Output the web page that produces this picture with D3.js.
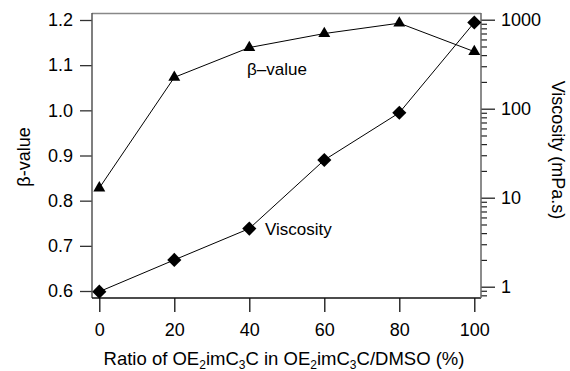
<!DOCTYPE html>
<html>
<head>
<meta charset="utf-8">
<script src="https://cdn.jsdelivr.net/npm/d3@7"></script>
<style>
  html, body { margin: 0; padding: 0; background: #fff; }
  text { font-family: "Liberation Sans", Arial, sans-serif; fill: #000; }
</style>
</head>
<body>
<svg id="chart" width="570" height="371"></svg>
<script>
// ---- data ----
const ratios = [0, 20, 40, 60, 80, 100];
const betaValues = [0.828, 1.073, 1.139, 1.170, 1.193, 1.130];
const viscosityValues = [0.88, 2.0, 4.5, 26.5, 90, 930];
const xTicks = [0, 20, 40, 60, 80, 100];
const betaTicks = [0.6, 0.7, 0.8, 0.9, 1.0, 1.1, 1.2];
const viscTicks = [1, 10, 100, 1000];

const svg = d3.select("#chart");
const frame = { left: 92, right: 481, top: 13, bottom: 298 };

const x = d3.scaleLinear().domain([0, 100]).range([99.3, 474.3]);
const yL = d3.scaleLinear().domain([0.6, 1.2]).range([291, 20]);
const yR = d3.scaleLog().domain([1, 1000]).range([286.7, 19.7]);

const fs = 18;
const ff = "Liberation Sans, Arial, sans-serif";

// frame top
svg.append("line").attr("x1", frame.left).attr("x2", frame.right)
  .attr("y1", frame.top + 0.5).attr("y2", frame.top + 0.5)
  .attr("stroke", "#888").attr("stroke-width", 1.5);

// left axis
const gL = svg.append("g").attr("transform", `translate(${frame.left},0)`)
  .call(d3.axisLeft(yL).tickValues(betaTicks).tickFormat(d3.format(".1f")).tickSize(12).tickPadding(7));
gL.select(".domain").remove();
gL.selectAll(".tick line").attr("stroke", "#333").attr("stroke-width", 1.3);
gL.selectAll(".tick text").attr("font-size", fs).attr("font-family", ff);
svg.append("line").attr("x1", frame.left).attr("x2", frame.left)
  .attr("y1", frame.top).attr("y2", frame.bottom)
  .attr("stroke", "#555").attr("stroke-width", 1.5);

// bottom axis
const gB = svg.append("g").attr("transform", `translate(0,${frame.bottom})`)
  .call(d3.axisBottom(x).tickValues(xTicks).tickSize(14).tickPadding(11));
gB.select(".domain").remove();
gB.selectAll(".tick line").attr("stroke", "#111").attr("stroke-width", 1.3);
gB.selectAll(".tick text").attr("font-size", fs).attr("font-family", ff);
svg.append("line").attr("x1", frame.left).attr("x2", frame.right)
  .attr("y1", frame.bottom).attr("y2", frame.bottom)
  .attr("stroke", "#111").attr("stroke-width", 1.3);

// right axis: minor ticks
const minor = [];
for (let dec = 0.1; dec <= 1000; dec *= 10) {
  for (let m = 2; m <= 9; m++) {
    const v = dec * m;
    if (yR(v) >= frame.top && yR(v) <= frame.bottom) minor.push(v);
  }
}
const gRm = svg.append("g").attr("transform", `translate(${frame.right},0)`)
  .call(d3.axisRight(yR).tickValues(minor).tickSize(6).tickFormat(""));
gRm.select(".domain").remove();
gRm.selectAll(".tick line").attr("stroke", "#222").attr("stroke-width", 1.2);
const gR = svg.append("g").attr("transform", `translate(${frame.right},0)`)
  .call(d3.axisRight(yR).tickValues(viscTicks).tickSize(14).tickPadding(6).tickFormat(d3.format("d")));
gR.select(".domain").remove();
gR.selectAll(".tick line").attr("stroke", "#222").attr("stroke-width", 1.3);
gR.selectAll(".tick text").attr("font-size", fs).attr("font-family", ff);
svg.append("line").attr("x1", frame.right).attr("x2", frame.right)
  .attr("y1", frame.top).attr("y2", frame.bottom)
  .attr("stroke", "#666").attr("stroke-width", 1.5);

// axis titles
svg.append("text").attr("transform", "translate(30,157) rotate(-90)")
  .attr("text-anchor", "middle").attr("font-size", 18).text("β-value");
svg.append("text").attr("transform", "translate(552,150) rotate(90)")
  .attr("text-anchor", "middle").attr("font-size", 18).text("Viscosity (mPa.s)");

const xt = svg.append("text").attr("x", 284).attr("y", 365)
  .attr("text-anchor", "middle").attr("font-size", 18.5);
xt.append("tspan").text("Ratio of OE");
xt.append("tspan").attr("font-size", 12).attr("dy", 4).text("2");
xt.append("tspan").attr("dy", -4).text("imC");
xt.append("tspan").attr("font-size", 12).attr("dy", 4).text("3");
xt.append("tspan").attr("dy", -4).text("C in OE");
xt.append("tspan").attr("font-size", 12).attr("dy", 4).text("2");
xt.append("tspan").attr("dy", -4).text("imC");
xt.append("tspan").attr("font-size", 12).attr("dy", 4).text("3");
xt.append("tspan").attr("dy", -4).text("C/DMSO (%)");

// series lines
const betaData = ratios.map((r, i) => ({ r, v: betaValues[i] }));
const viscData = ratios.map((r, i) => ({ r, v: viscosityValues[i] }));

svg.append("path").datum(betaData)
  .attr("d", d3.line().x(d => x(d.r)).y(d => yL(d.v)))
  .attr("fill", "none").attr("stroke", "#000").attr("stroke-width", 1);
svg.append("path").datum(viscData)
  .attr("d", d3.line().x(d => x(d.r)).y(d => yR(d.v)))
  .attr("fill", "none").attr("stroke", "#000").attr("stroke-width", 1);

// markers
svg.selectAll(".tri").data(betaData).enter().append("path")
  .attr("transform", d => `translate(${x(d.r)},${yL(d.v)})`)
  .attr("d", d3.symbol().type(d3.symbolTriangle).size(62))
  .attr("fill", "#000");
svg.selectAll(".dia").data(viscData).enter().append("path")
  .attr("transform", d => `translate(${x(d.r)},${yR(d.v)}) rotate(45)`)
  .attr("d", d3.symbol().type(d3.symbolSquare).size(100))
  .attr("fill", "#000");

// annotations
svg.append("text").attr("x", 247).attr("y", 75).attr("font-size", 17).text("β–value");
svg.append("text").attr("x", 265).attr("y", 235).attr("font-size", 17).text("Viscosity");
</script>
</body>
</html>
